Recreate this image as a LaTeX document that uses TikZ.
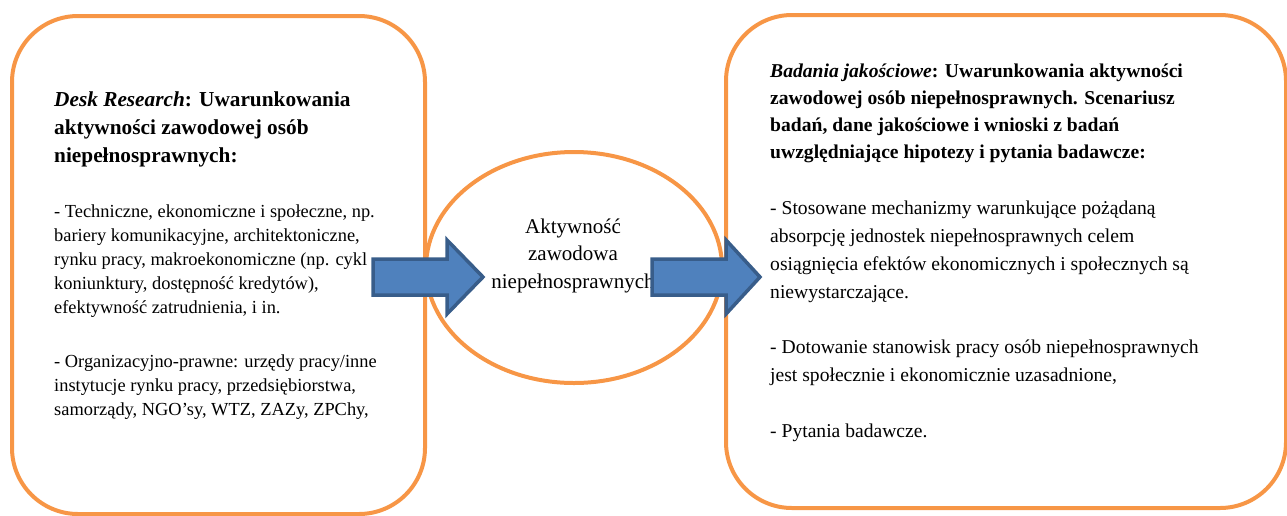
\documentclass[tikz,border=0pt]{standalone}
\usepackage{fontspec}
\setmainfont{Liberation Serif}
\usetikzlibrary{shapes.geometric}
\definecolor{orangeline}{HTML}{F79646}
\definecolor{arrowfill}{HTML}{4F81BD}
\definecolor{arrowdraw}{HTML}{385D8A}
\begin{document}
\begin{tikzpicture}[x=1pt,y=-1pt,
  panel/.style={draw=orangeline,line width=4pt,rounded corners=66pt,inner sep=0pt},
  oval/.style={ellipse,draw=orangeline,line width=4pt,inner sep=0pt},
  blockarrow/.style={fill=arrowfill,draw=arrowdraw,line width=3.5pt,line join=miter},
  txt/.style={anchor=base west,inner sep=0pt,align=left},
  lhead/.style={txt,font=\fontsize{21.3}{28.3}\selectfont\bfseries},
  lbody/.style={txt,font=\fontsize{18.4}{24.1}\selectfont},
  rhead/.style={txt,font=\fontsize{19.6}{27.3}\selectfont\bfseries},
  rbody/.style={txt,font=\fontsize{19.6}{28.2}\selectfont},
  midtxt/.style={anchor=base,inner sep=0pt,align=center,font=\fontsize{21}{27.5}\selectfont}
]
\useasboundingbox (0,0) rectangle (1287,515);
% panels
\node[panel,minimum width=413pt,minimum height=498pt] (leftbox) at (218.5,265) {};
\node[panel,minimum width=560pt,minimum height=493pt] (rightbox) at (1006,261.5) {};
\node[oval,minimum width=296pt,minimum height=231pt] (mid) at (574,267.5) {};
% left texts (anchor = baseline of last line)
\node[lhead] (lh) at (54,162.6) {\textit{Desk Research}: Uwarunkowania\\aktywności zawodowej osób\\niepełnosprawnych:};
\node[lbody] (lp1) at (54,313.4) {- Techniczne, ekonomiczne i społeczne, np.\\bariery komunikacyjne, architektoniczne,\\rynku pracy, makroekonomiczne (np. cykl\\koniunktury, dostępność kredytów),\\efektywność zatrudnienia, i in.};
\node[lbody] (lp2) at (54,415.2) {- Organizacyjno-prawne: urzędy pracy/inne\\instytucje rynku pracy, przedsiębiorstwa,\\samorządy, NGO’sy, WTZ, ZAZy, ZPChy,};
% middle text
\node[midtxt] (mt) at (573,288) {Aktywność\\zawodowa\\niepełnosprawnych};
% right texts
\node[rhead] (rh) at (770,158.9) {\textit{Badania jakościowe}: Uwarunkowania aktywności\\zawodowej osób niepełnosprawnych. Scenariusz\\badań, dane jakościowe i wnioski z badań\\uwzględniające hipotezy i pytania badawcze:};
\node[rbody] (rp1) at (770,298.6) {- Stosowane mechanizmy warunkujące pożądaną\\absorpcję jednostek niepełnosprawnych celem\\osiągnięcia efektów ekonomicznych i społecznych są\\niewystarczające.};
\node[rbody] (rp2) at (770,381.2) {- Dotowanie stanowisk pracy osób niepełnosprawnych\\jest społecznie i ekonomicznie uzasadnione,};
\node[rbody] (rp3) at (770,437) {- Pytania badawcze.};
% block arrows
\draw[blockarrow] (373,259) -- (447,259) -- (447,240) -- (483,277) -- (447,314) -- (447,295) -- (373,295) -- cycle;
\draw[blockarrow] (652,259) -- (726,259) -- (726,240) -- (760,277) -- (726,314) -- (726,295) -- (652,295) -- cycle;
\end{tikzpicture}
\end{document}
